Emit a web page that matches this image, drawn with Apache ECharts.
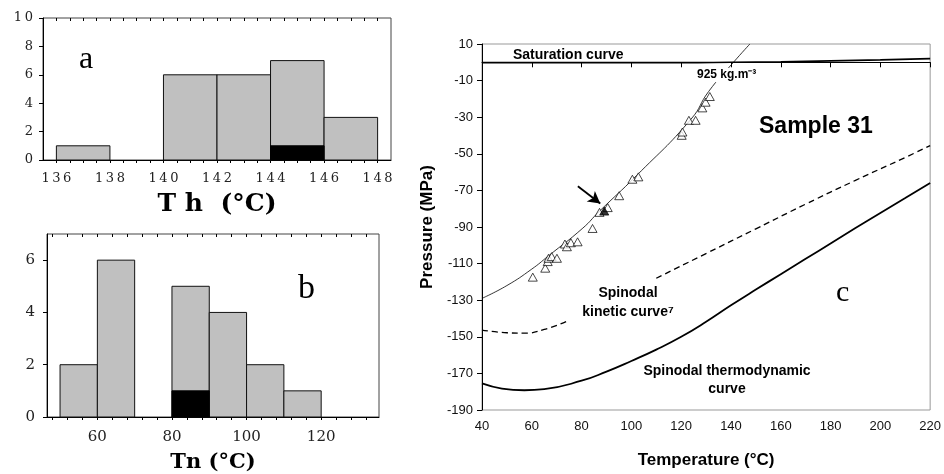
<!DOCTYPE html>
<html><head><meta charset="utf-8">
<script src="https://cdn.jsdelivr.net/npm/echarts@6/dist/echarts.min.js"></script>
<style>html,body{margin:0;padding:0;background:#fff}#c{width:944px;height:474px}</style>
</head><body><div id="c"></div>
<script>
// ---------- Panel a : Th histogram ----------
const thBinStarts = [136, 140, 142, 144, 146];
const thCounts    = [1, 6, 6, 7, 3];
const thBlack     = [0, 0, 0, 1, 0];
const thBinWidth  = 2;
const thTicks     = [136, 138, 140, 142, 144, 146, 148];
const thCountTicks = [0, 2, 4, 6, 8, 10];

// ---------- Panel b : Tn histogram ----------
const tnBinStarts = [50, 60, 80, 90, 100, 110];
const tnCounts    = [2, 6, 5, 4, 2, 1];
const tnBlack     = [0, 0, 1, 0, 0, 0];
const tnBinWidth  = 10;
const tnTicks     = [60, 80, 100, 120];
const tnCountTicks = [0, 2, 4, 6];

// ---------- Panel c : P-T diagram ----------
const tempTicks  = [40, 60, 80, 100, 120, 140, 160, 180, 200, 220];
const pressTicks = [-190, -170, -150, -130, -110, -90, -70, -50, -30, -10, 10];

const satT = [40, 80, 120, 140, 160, 180, 200, 220];
const satP = [-0.2, -0.2, -0.2, 0.0, 0.3, 0.8, 1.3, 2.0];

const isoT = [40, 50, 60, 66.5, 80.5, 87, 102, 124, 131, 141, 147.6];
const isoP = [-129, -122, -113, -106, -90.6, -81.6, -62, -31, -16, 0, 10];

const kinT = [40, 50, 57, 65, 75, 92, 110, 130, 150, 170, 190, 210, 220];
const kinP = [-146.3, -147.8, -148, -146, -141, null, -118, -104.5, -91, -77.5, -64.5, -52, -45.5];

const thermoT = [40, 48, 57, 65, 80, 90, 100, 110, 120, 130, 140, 150, 160, 170, 180, 190, 200, 210, 220];
const thermoP = [-175.5, -178.3, -179.2, -178.6, -174, -169, -163.2, -157, -150, -141.8, -132.8, -124.2, -115.8, -107.4, -99, -90.6, -82.4, -74.2, -66];

const fiT = [60.4, 65.4, 66.4, 66.7, 68.0, 70.1, 73.3, 74.1, 75.7, 78.4, 84.4, 87.2, 90.5, 95.1, 100.4, 102.8, 120.2, 120.5, 123.1, 125.8, 128.5, 129.8, 131.5];
const fiP = [-117.4, -112.5, -108.9, -107.1, -106.2, -107.1, -99.3, -100.8, -98.6, -98.1, -90.8, -82.0, -79.4, -72.9, -63.9, -62.6, -39.9, -38.1, -31.7, -31.7, -24.9, -21.8, -18.7];
const fiFilledT = [89.1];
const fiFilledP = [-81.3];

const arrowFrom = [78.5, -67.7];
const arrowTo   = [87.5, -77.2];

// ---------- helpers ----------
const zip = (a, b) => a.map((v, i) => [v, b[i]]);
function range(a, b, s) { const r = []; for (let v = a; v <= b + 1e-9; v += s) r.push(+v.toFixed(3)); return r; }
function histItem(color, width, stroke) {
  return function (params, api) {
    const x0 = api.value(0), h = api.value(1);
    if (!h) return null;
    const p0 = api.coord([x0, 0]);
    const p1 = api.coord([x0 + width, h]);
    return {
      type: 'rect',
      shape: { x: p0[0], y: p1[1], width: p1[0] - p0[0], height: p0[1] - p1[1] },
      style: { fill: color, stroke: stroke, lineWidth: 1 }
    };
  };
}
const spaced = v => String(v).split('').join('\u2009');
const serif = "'DejaVu Serif', 'Liberation Serif', serif";
const sans = "'Liberation Sans', Arial, sans-serif";
const boldSans = "bold 14px 'Liberation Sans', Arial, sans-serif";

const chart = echarts.init(document.getElementById('c'), null, { renderer: 'canvas' });

const option = {
  animation: false,
  backgroundColor: '#fff',
  grid: [
    { left: 43, top: 18, width: 348, height: 142, show: true, borderColor: '#444', borderWidth: 1 },
    { left: 47, top: 234, width: 332, height: 185, show: true, borderColor: '#444', borderWidth: 1 },
    { left: 482, top: 44, width: 451, height: 369, show: true, borderColor: '#999', borderWidth: 1 }
  ],
  xAxis: [
    { gridIndex: 0, type: 'value', min: 135.5, max: 148.5,
      axisLine: { lineStyle: { color: '#000', width: 1 } },
      axisTick: { customValues: range(136, 148, 0.5), length: 3, lineStyle: { color: '#000' } },
      axisLabel: { customValues: thTicks, formatter: spaced, fontFamily: serif, fontSize: 13, color: '#222', margin: 12 },
      splitLine: { show: false },
      name: 'T h  (°C)', nameLocation: 'middle', nameGap: 32,
      nameTextStyle: { fontFamily: serif, fontWeight: 'bold', fontSize: 25, color: '#000' } },
    { gridIndex: 0, type: 'value', position: 'top', min: 135.5, max: 148.5,
      axisLine: { show: false },
      axisTick: { customValues: range(136, 148, 0.5), length: 3, inside: true, lineStyle: { color: '#000' } },
      axisLabel: { show: false }, splitLine: { show: false } },
    { gridIndex: 1, type: 'value', min: 46.5, max: 135.5,
      axisLine: { lineStyle: { color: '#000', width: 1 } },
      axisTick: { customValues: range(48, 132, 4), length: 3, lineStyle: { color: '#000' } },
      axisLabel: { customValues: tnTicks, fontFamily: serif, fontSize: 15, color: '#222', margin: 13 },
      splitLine: { show: false },
      name: 'Tn (°C)', nameLocation: 'middle', nameGap: 35,
      nameTextStyle: { fontFamily: serif, fontWeight: 'bold', fontSize: 21, color: '#000' } },
    { gridIndex: 1, type: 'value', position: 'top', min: 46.5, max: 135.5,
      axisLine: { show: false },
      axisTick: { customValues: range(48, 132, 4), length: 3, inside: true, lineStyle: { color: '#000' } },
      axisLabel: { show: false }, splitLine: { show: false } },
    { gridIndex: 2, type: 'value', min: 40, max: 220, interval: 20,
      axisLine: { lineStyle: { color: '#000', width: 1 } },
      axisTick: { customValues: tempTicks, length: 5, lineStyle: { color: '#000' } },
      axisLabel: { customValues: tempTicks, fontFamily: sans, fontSize: 13, color: '#111', margin: 10 },
      splitLine: { show: false },
      name: 'Temperature (°C)', nameLocation: 'middle', nameGap: 42,
      nameTextStyle: { fontFamily: sans, fontWeight: 'bold', fontSize: 17, color: '#000' } }
  ],
  yAxis: [
    { gridIndex: 0, type: 'value', min: 0, max: 10, interval: 2,
      axisLine: { show: true, lineStyle: { color: '#000', width: 1 } },
      axisTick: { show: true, customValues: thCountTicks, length: 4, lineStyle: { color: '#000' } },
      axisLabel: { customValues: thCountTicks, formatter: spaced, fontFamily: serif, fontSize: 13, color: '#222', margin: 10 },
      splitLine: { show: false } },
    { gridIndex: 1, type: 'value', min: 0, max: 7,
      axisLine: { show: true, lineStyle: { color: '#000', width: 1 } },
      axisTick: { show: true, customValues: tnCountTicks, length: 4, lineStyle: { color: '#000' } },
      axisLabel: { customValues: tnCountTicks, fontFamily: serif, fontSize: 15, color: '#222', margin: 12 },
      splitLine: { show: false } },
    { gridIndex: 2, type: 'value', min: -190, max: 10,
      axisLine: { show: true, lineStyle: { color: '#000', width: 1 } },
      axisTick: { show: true, customValues: pressTicks, length: 5, lineStyle: { color: '#000' } },
      axisLabel: { customValues: pressTicks, fontFamily: sans, fontSize: 13, color: '#111', margin: 9 },
      splitLine: { show: false },
      name: 'Pressure (MPa)', nameLocation: 'middle', nameGap: 46,
      nameTextStyle: { fontFamily: sans, fontWeight: 'bold', fontSize: 17, color: '#000' } }
  ],
  series: [
    { type: 'custom', xAxisIndex: 0, yAxisIndex: 0, renderItem: histItem('#c0c0c0', thBinWidth, '#111'),
      data: zip(thBinStarts, thCounts), z: 2 },
    { type: 'custom', xAxisIndex: 0, yAxisIndex: 0, renderItem: histItem('#000', thBinWidth, '#000'),
      data: zip(thBinStarts, thBlack), z: 3 },
    { type: 'custom', xAxisIndex: 2, yAxisIndex: 1, renderItem: histItem('#c0c0c0', tnBinWidth, '#111'),
      data: zip(tnBinStarts, tnCounts), z: 2 },
    { type: 'custom', xAxisIndex: 2, yAxisIndex: 1, renderItem: histItem('#000', tnBinWidth, '#000'),
      data: zip(tnBinStarts, tnBlack), z: 3 },
    { type: 'line', xAxisIndex: 4, yAxisIndex: 2, data: zip(satT, satP), smooth: true, symbol: 'none',
      lineStyle: { color: '#000', width: 1.6 }, z: 3 },
    { type: 'line', xAxisIndex: 4, yAxisIndex: 2, data: zip(isoT, isoP), smooth: true, symbol: 'none',
      lineStyle: { color: '#000', width: 0.8 }, z: 2,
      markLine: { silent: true, symbol: ['none', 'arrow'], symbolSize: [10, 12], animation: false,
        label: { show: false }, lineStyle: { color: '#000', width: 1.8, type: 'solid' },
        data: [[{ coord: arrowFrom }, { coord: arrowTo }]] } },
    { type: 'line', xAxisIndex: 4, yAxisIndex: 2, data: zip(kinT, kinP), smooth: true, symbol: 'none',
      connectNulls: false, lineStyle: { color: '#000', width: 1.3, type: [6, 4] }, z: 2 },
    { type: 'line', xAxisIndex: 4, yAxisIndex: 2, data: zip(thermoT, thermoP), smooth: true, symbol: 'none',
      lineStyle: { color: '#000', width: 1.8 }, z: 2 },
    { type: 'scatter', xAxisIndex: 4, yAxisIndex: 2, data: zip(fiT, fiP), symbol: 'triangle', symbolSize: [9, 8],
      itemStyle: { color: '#fff', borderColor: '#000', borderWidth: 0.9 }, z: 4 },
    { type: 'scatter', xAxisIndex: 4, yAxisIndex: 2, data: zip(fiFilledT, fiFilledP), symbol: 'triangle', symbolSize: [9, 8],
      itemStyle: { color: '#000', borderColor: '#000', borderWidth: 0.9 }, z: 5 }
  ],
  graphic: [
    { type: 'text', left: 79, top: 44, z: 50, style: { text: 'a', font: "32px 'Liberation Serif', serif", fill: '#000' } },
    { type: 'text', left: 298, top: 272, z: 50, style: { text: 'b', font: "34px 'Liberation Serif', serif", fill: '#000' } },
    { type: 'text', left: 836, top: 278, z: 50, style: { text: 'c', font: "30px 'Liberation Serif', serif", fill: '#000' } },
    { type: 'text', left: 513, top: 48, z: 50, style: { text: 'Saturation curve', font: boldSans, fill: '#000' } },
    { type: 'text', left: 696, top: 68, z: 50, style: { text: '925 kg.m⁻³', font: "bold 12px 'Liberation Sans', Arial, sans-serif", fill: '#000', backgroundColor: '#fff', padding: [1, 1] } },
    { type: 'text', left: 759, top: 115, z: 50, style: { text: 'Sample 31', font: "bold 23px 'Liberation Sans', Arial, sans-serif", fill: '#000' } },
    { type: 'text', x: 628, y: 293, z: 50, style: { text: 'Spinodal', textAlign: 'center', textVerticalAlign: 'middle', font: boldSans, fill: '#000' } },
    { type: 'text', x: 628, y: 312, z: 50, style: { text: 'kinetic curve⁷', textAlign: 'center', textVerticalAlign: 'middle', font: boldSans, fill: '#000' } },
    { type: 'text', x: 727, y: 371, z: 50, style: { text: 'Spinodal thermodynamic', textAlign: 'center', textVerticalAlign: 'middle', font: boldSans, fill: '#000' } },
    { type: 'text', x: 727, y: 389, z: 50, style: { text: 'curve', textAlign: 'center', textVerticalAlign: 'middle', font: boldSans, fill: '#000' } }
  ]
};
chart.setOption(option);
</script></body></html>
